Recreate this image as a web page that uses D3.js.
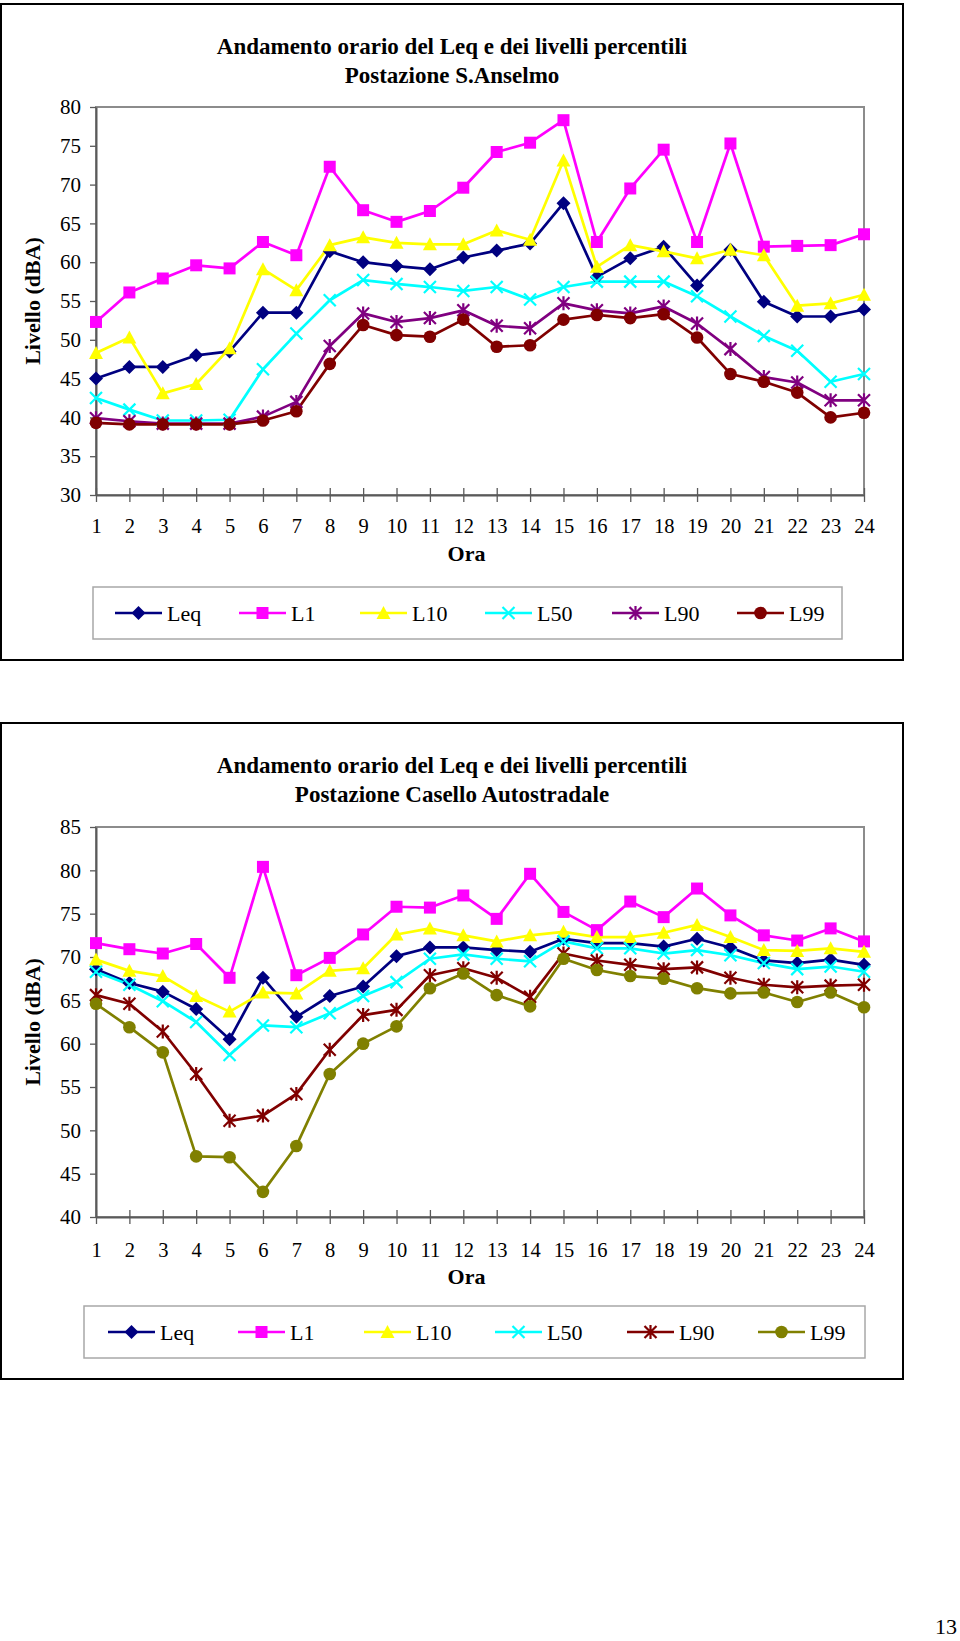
<!DOCTYPE html>
<html><head><meta charset="utf-8">
<script src="https://cdn.jsdelivr.net/npm/d3@7"></script>
<style>body{margin:0;background:#fff}svg{display:block}text{font-family:"Liberation Serif","Times New Roman",serif}</style>
</head><body>
<svg id="page" width="960" height="1641"></svg>
<script>
// ---- DATA ----
const hours = d3.range(1, 25);
const seriesNames = ["Leq", "L1", "L10", "L50", "L90", "L99"];

// Chart 1: Postazione S.Anselmo
const a_Leq = [45.0,46.5,46.5,48.0,48.5,53.5,53.5,61.4,60.0,59.5,59.1,60.6,61.5,62.4,67.6,58.1,60.5,62.0,57.0,61.6,54.9,53.0,53.0,53.9];
const a_L1  = [52.3,56.1,57.9,59.6,59.2,62.6,60.9,72.3,66.7,65.2,66.6,69.6,74.2,75.4,78.3,62.6,69.5,74.5,62.6,75.3,62.0,62.1,62.2,63.6];
const a_L10 = [48.3,50.3,43.1,44.3,48.9,59.1,56.4,62.2,63.2,62.5,62.3,62.3,64.1,62.9,73.1,59.4,62.2,61.4,60.5,61.6,60.9,54.4,54.7,55.8];
const a_L50 = [42.5,41.0,39.6,39.6,39.7,46.2,50.8,55.1,57.7,57.2,56.8,56.3,56.8,55.2,56.8,57.5,57.5,57.5,55.6,53.0,50.5,48.6,44.6,45.6];
const a_L90 = [39.9,39.5,39.2,39.2,39.2,40.1,42.0,49.2,53.4,52.3,52.8,53.8,51.8,51.5,54.7,53.8,53.4,54.3,52.1,48.8,45.2,44.5,42.2,42.2];
const a_L99 = [39.3,39.1,39.1,39.1,39.1,39.6,40.8,46.9,51.9,50.6,50.4,52.6,49.1,49.3,52.6,53.2,52.8,53.3,50.3,45.6,44.6,43.2,40.0,40.6];
const a_yTicks = [30,35,40,45,50,55,60,65,70,75,80];

// Chart 2: Postazione Casello Autostradale
const b_Leq = [68.6,67.0,66.0,64.0,60.5,67.6,63.1,65.5,66.6,70.1,71.1,71.1,70.8,70.6,72.1,71.6,71.6,71.2,72.1,71.1,69.6,69.3,69.7,69.1];
const b_L1  = [71.6,70.9,70.4,71.5,67.6,80.4,67.9,69.9,72.6,75.8,75.7,77.1,74.4,79.6,75.2,73.1,76.4,74.6,77.9,74.8,72.5,71.9,73.3,71.8];
const b_L10 = [69.7,68.4,67.8,65.5,63.7,65.9,65.8,68.4,68.7,72.6,73.3,72.5,71.8,72.5,72.9,72.3,72.3,72.8,73.7,72.3,70.8,70.7,71.0,70.6];
const b_L50 = [68.3,66.8,64.9,62.5,58.7,62.1,61.9,63.5,65.5,67.1,69.8,70.3,69.8,69.5,71.8,71.0,71.0,70.4,70.8,70.2,69.3,68.6,68.9,68.3];
const b_L90 = [65.6,64.6,61.4,56.5,51.1,51.7,54.2,59.3,63.3,63.9,67.9,68.7,67.6,65.4,70.4,69.6,69.1,68.6,68.8,67.6,66.8,66.5,66.7,66.8];
const b_L99 = [64.6,61.9,59.0,47.0,46.9,42.9,48.2,56.5,60.0,62.0,66.4,68.1,65.6,64.3,69.8,68.5,67.8,67.5,66.4,65.8,65.9,64.8,65.9,64.2];
const b_yTicks = [40,45,50,55,60,65,70,75,80,85];

const titleLine1 = "Andamento orario del Leq e dei livelli percentili";
const xTitle = "Ora";
const yTitle = "Livello (dBA)";

// ---- DRAWING ----
const svg = d3.select("#page");
const markerType = {Leq:"diamond", L1:"square", L10:"triangle", L50:"x", L90:"star", L99:"circle"};

function markerPath(type) {
  const s = 6;
  switch (type) {
    case "diamond": return `M0,${-s-1}L${s+1},0L0,${s+1}L${-s-1},0Z`;
    case "square": return `M${-s},${-s}H${s}V${s}H${-s}Z`;
    case "triangle": return `M0,${-s-1}L${s+1},${s}L${-s-1},${s}Z`;
    case "x": return `M${-s},${-s}L${s},${s}M${-s},${s}L${s},${-s}`;
    case "star": return `M${-s},${-s}L${s},${s}M${-s},${s}L${s},${-s}M0,${-s-1}V${s+1}`;
    case "circle": return d3.symbol(d3.symbolCircle, 125)();
  }
}
function drawMarker(g, type, color) {
  const p = g.append("path").attr("d", markerPath(type));
  if (type === "x" || type === "star") p.attr("fill", "none").attr("stroke", color).attr("stroke-width", 2.2);
  else p.attr("fill", color).attr("stroke", "none");
}

function drawChart(cfg) {
  const g = svg.append("g");
  // outer frame
  g.append("rect").attr("x", cfg.frame[0]).attr("y", cfg.frame[1])
    .attr("width", cfg.frame[2] - cfg.frame[0]).attr("height", cfg.frame[3] - cfg.frame[1])
    .attr("fill", "#fff").attr("stroke", "#000").attr("stroke-width", 2);

  const x = d3.scalePoint().domain(hours).range([cfg.plot[0], cfg.plot[2]]).padding(0);
  const y = d3.scaleLinear().domain(cfg.yDomain).range([cfg.plot[3], cfg.plot[1]]);

  // plot border (top/right)
  g.append("rect").attr("x", cfg.plot[0]).attr("y", cfg.plot[1])
    .attr("width", cfg.plot[2] - cfg.plot[0]).attr("height", cfg.plot[3] - cfg.plot[1])
    .attr("fill", "none").attr("stroke", "#8c8c8c").attr("stroke-width", 2);

  // y axis
  const ya = g.append("g").attr("transform", `translate(${cfg.plot[0]},0)`)
    .call(d3.axisLeft(y).tickValues(cfg.yTicks).tickSize(6).tickPadding(9).tickSizeOuter(0));
  ya.select(".domain").attr("stroke", "#5a5a5a").attr("stroke-width", 2);
  ya.selectAll(".tick line").attr("x1", 0).attr("stroke", "#5a5a5a").attr("stroke-width", 1.3);
  ya.selectAll(".tick text").attr("font-size", 21).attr("fill", "#000")
    .attr("font-family", "Liberation Serif");

  // x axis
  const xa = g.append("g").attr("transform", `translate(0,${cfg.plot[3]})`)
    .call(d3.axisBottom(x).tickSize(7).tickSizeOuter(0));
  xa.select(".domain").attr("stroke", "#5a5a5a").attr("stroke-width", 2);
  xa.selectAll(".tick line").attr("y1", -7).attr("stroke", "#5a5a5a").attr("stroke-width", 1.3);
  xa.selectAll(".tick text").attr("font-size", 20.5).attr("fill", "#000")
    .attr("font-family", "Liberation Serif").attr("y", cfg.xLabelOffset).attr("dy", 0);

  // titles
  const cx = (cfg.frame[0] + cfg.frame[2]) / 2;
  g.append("text").attr("x", cx).attr("y", cfg.titleY[0]).attr("text-anchor", "middle")
    .attr("font-size", 23).attr("font-weight", "bold").text(titleLine1);
  g.append("text").attr("x", cx).attr("y", cfg.titleY[1]).attr("text-anchor", "middle")
    .attr("font-size", 23).attr("font-weight", "bold").text(cfg.title2);
  g.append("text").attr("x", cfg.xTitlePos[0]).attr("y", cfg.xTitlePos[1]).attr("text-anchor", "middle")
    .attr("font-size", 22).attr("font-weight", "bold").text(xTitle);
  const ymid = (cfg.plot[1] + cfg.plot[3]) / 2;
  g.append("text").attr("transform", `translate(${cfg.yTitleX},${ymid}) rotate(-90)`)
    .attr("text-anchor", "middle").attr("font-size", 22).attr("font-weight", "bold").text(yTitle);

  // series
  const line = d3.line().x((d, i) => x(hours[i])).y(d => y(d));
  cfg.series.forEach(s => {
    g.append("path").datum(s.values).attr("d", line).attr("fill", "none")
      .attr("stroke", s.color).attr("stroke-width", 2.7).attr("stroke-linejoin", "round");
  });
  cfg.series.forEach(s => {
    s.values.forEach((v, i) => {
      const mg = g.append("g").attr("transform", `translate(${x(hours[i])},${y(v)})`);
      drawMarker(mg, markerType[s.name], s.color);
    });
  });

  // legend
  const L = cfg.legend;
  g.append("rect").attr("x", L.box[0]).attr("y", L.box[1]).attr("width", L.box[2] - L.box[0])
    .attr("height", L.box[3] - L.box[1]).attr("fill", "#fff").attr("stroke", "#a8a8a8").attr("stroke-width", 1.5);
  cfg.series.forEach((s, i) => {
    const lx = L.lineX[i];
    const lg = g.append("g");
    lg.append("line").attr("x1", lx).attr("x2", lx + 47).attr("y1", L.cy).attr("y2", L.cy)
      .attr("stroke", s.color).attr("stroke-width", 2.7);
    const mg = lg.append("g").attr("transform", `translate(${lx + 23.5},${L.cy})`);
    drawMarker(mg, markerType[s.name], s.color);
    lg.append("text").attr("x", lx + 52).attr("y", L.baseline).attr("font-size", 22).text(s.name);
  });
}

drawChart({
  frame: [1, 4, 903, 660],
  plot: [96, 107, 864, 495],
  yDomain: [30, 80], yTicks: a_yTicks,
  xLabelOffset: 38,
  titleY: [54, 83], title2: "Postazione S.Anselmo",
  xTitlePos: [466.5, 561], yTitleX: 40,
  series: [
    {name:"Leq", values:a_Leq, color:"#000080"},
    {name:"L1", values:a_L1, color:"#FF00FF"},
    {name:"L10", values:a_L10, color:"#FFFF00"},
    {name:"L50", values:a_L50, color:"#00FFFF"},
    {name:"L90", values:a_L90, color:"#800080"},
    {name:"L99", values:a_L99, color:"#800000"}
  ],
  legend: {box: [93, 587, 842, 639], cy: 613, baseline: 621, lineX: [115, 239, 360, 485, 612, 737]}
});

drawChart({
  frame: [1, 723, 903, 1379],
  plot: [96, 827, 864, 1217],
  yDomain: [40, 85], yTicks: b_yTicks,
  xLabelOffset: 40,
  titleY: [773, 802], title2: "Postazione Casello Autostradale",
  xTitlePos: [466.5, 1284], yTitleX: 40,
  series: [
    {name:"Leq", values:b_Leq, color:"#000080"},
    {name:"L1", values:b_L1, color:"#FF00FF"},
    {name:"L10", values:b_L10, color:"#FFFF00"},
    {name:"L50", values:b_L50, color:"#00FFFF"},
    {name:"L90", values:b_L90, color:"#800000"},
    {name:"L99", values:b_L99, color:"#808000"}
  ],
  legend: {box: [84, 1306, 865, 1358], cy: 1332, baseline: 1340, lineX: [108, 238, 364, 495, 627, 758]}
});

svg.append("text").attr("x", 957).attr("y", 1634).attr("text-anchor", "end").attr("font-size", 22).text("13");
</script>
</body></html>
